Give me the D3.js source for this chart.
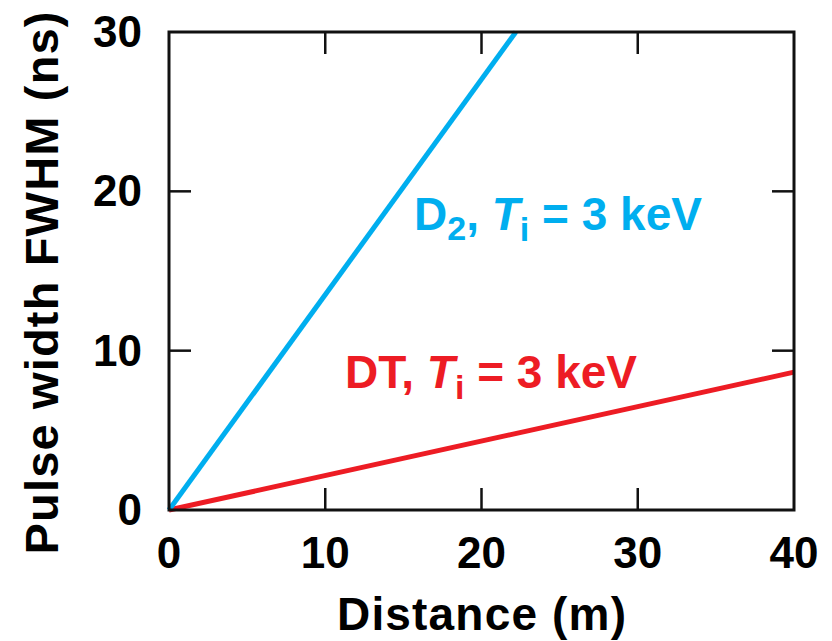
<!DOCTYPE html>
<html>
<head>
<meta charset="utf-8">
<script src="https://cdn.jsdelivr.net/npm/d3@7"></script>
<style>
  body { margin: 0; background: #fff; }
  text { font-family: "Liberation Sans", Arial, sans-serif; font-weight: bold; }
</style>
</head>
<body>
<div id="chart"></div>
<script>
// data
const xTicks = [0, 10, 20, 30, 40];
const yTicks = [0, 10, 20, 30];
const d2Line = [[0, 0], [22.2, 30]];
const dtLine = [[0, 0], [40, 8.65]];

const width = 832, height = 641;
const margin = { left: 169, right: 38, top: 32, bottom: 131 };

const svg = d3.select("#chart")
  .append("svg")
  .attr("width", width)
  .attr("height", height);

const x = d3.scaleLinear().domain([0, 40]).range([margin.left, width - margin.right]);
const y = d3.scaleLinear().domain([0, 30]).range([height - margin.bottom, margin.top]);

const tickLen = 22;

// ticks on all four sides, pointing inward
const g = svg.append("g").attr("stroke", "#111").attr("stroke-width", 2.5);
xTicks.slice(1, -1).forEach(t => {
  g.append("line").attr("x1", x(t)).attr("x2", x(t)).attr("y1", y(0)).attr("y2", y(0) - tickLen);
  g.append("line").attr("x1", x(t)).attr("x2", x(t)).attr("y1", y(30)).attr("y2", y(30) + tickLen);
});
yTicks.slice(1, -1).forEach(t => {
  g.append("line").attr("y1", y(t)).attr("y2", y(t)).attr("x1", x(0)).attr("x2", x(0) + tickLen);
  g.append("line").attr("y1", y(t)).attr("y2", y(t)).attr("x1", x(40)).attr("x2", x(40) - tickLen);
});

// data lines
const line = d3.line().x(d => x(d[0])).y(d => y(d[1]));
svg.append("path").datum(dtLine).attr("d", line)
  .attr("fill", "none").attr("stroke", "#ED1C24").attr("stroke-width", 5);
svg.append("path").datum(d2Line).attr("d", line)
  .attr("fill", "none").attr("stroke", "#00AEEF").attr("stroke-width", 5);

// frame
svg.append("rect")
  .attr("x", x(0)).attr("y", y(30))
  .attr("width", x(40) - x(0)).attr("height", y(0) - y(30))
  .attr("fill", "none").attr("stroke", "#111").attr("stroke-width", 3);

// tick labels
svg.selectAll(".xlab").data(xTicks).join("text")
  .attr("class", "xlab")
  .attr("x", d => x(d)).attr("y", y(0) + 58)
  .attr("text-anchor", "middle")
  .style("font-size", "44px")
  .text(d => d);

svg.selectAll(".ylab").data(yTicks).join("text")
  .attr("class", "ylab")
  .attr("x", x(0) - 27).attr("y", d => y(d) + 15)
  .attr("text-anchor", "end")
  .style("font-size", "44px")
  .text(d => d);

// axis titles
svg.append("text")
  .attr("x", (x(0) + x(40)) / 2).attr("y", 630)
  .attr("text-anchor", "middle")
  .attr("textLength", 289).attr("lengthAdjust", "spacing")
  .style("font-size", "46px")
  .text("Distance (m)");

svg.append("text")
  .attr("transform", "translate(58, 283) rotate(-90)")
  .attr("text-anchor", "middle")
  .attr("textLength", 543).attr("lengthAdjust", "spacing")
  .style("font-size", "47px")
  .text("Pulse width FWHM (ns)");

// line labels
function label(px, py, color, main, sub) {
  const t = svg.append("text").attr("x", px).attr("y", py)
    .attr("fill", color).style("font-size", "46px");
  t.append("tspan").text(main);
  if (sub) t.append("tspan").attr("dy", 10).style("font-size", "34px").text(sub);
  t.append("tspan").attr("dy", sub ? -10 : 0).text(", ");
  t.append("tspan").style("font-style", "italic").text("T");
  t.append("tspan").attr("dy", 11).style("font-size", "34px").text("i");
  t.append("tspan").attr("dy", -11).text(" = 3 keV");
}
label(414, 230, "#00AEEF", "D", "2");
label(345, 388, "#ED1C24", "DT", null);
</script>
</body>
</html>
